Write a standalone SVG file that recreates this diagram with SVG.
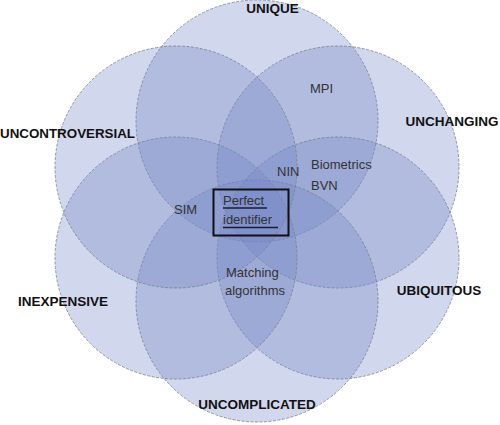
<svg xmlns="http://www.w3.org/2000/svg" width="500" height="425" viewBox="0 0 500 425">
<style>
.c{fill:#7387c4;fill-opacity:0.33;stroke:#7a7f8c;stroke-width:0.8;stroke-dasharray:3 1.5}
.h{font-family:"Liberation Sans",Arial,sans-serif;font-weight:bold;font-size:13.5px;fill:#111;text-anchor:middle}
.t{font-family:"Liberation Sans",Arial,sans-serif;font-size:13px;fill:#333}
.u{stroke:#1a1d2b;stroke-width:1.6}
</style>
<rect width="500" height="425" fill="#fff"/>
<g id="unique"><circle class="c" cx="257" cy="121" r="121"/></g>
<g id="unchanging"><circle class="c" cx="338" cy="167" r="121"/></g>
<g id="ubiquitous"><circle class="c" cx="338" cy="258" r="121"/></g>
<g id="uncomplicated"><circle class="c" cx="257" cy="301" r="121"/></g>
<g id="inexpensive"><circle class="c" cx="176" cy="258" r="121"/></g>
<g id="uncontroversial"><circle class="c" cx="176" cy="167" r="121"/></g>
<g id="labels">
<text class="h" x="272.5" y="13">UNIQUE</text>
<text class="h" x="452" y="126">UNCHANGING</text>
<text class="h" x="67.5" y="138" textLength="135" lengthAdjust="spacingAndGlyphs">UNCONTROVERSIAL</text>
<text class="h" x="63" y="306">INEXPENSIVE</text>
<text class="h" x="439" y="295">UBIQUITOUS</text>
<text class="h" x="257" y="409">UNCOMPLICATED</text>
</g>
<g id="items">
<text class="t" x="310" y="93">MPI</text>
<text class="t" x="277" y="176">NIN</text>
<text class="t" x="311" y="169">Biometrics</text>
<text class="t" x="311" y="190">BVN</text>
<text class="t" x="174" y="214">SIM</text>
<text class="t" x="226" y="277">Matching</text>
<text class="t" x="225" y="295">algorithms</text>
</g>
<g id="perfect-identifier">
<rect x="213.5" y="189.5" width="75" height="46" fill="none" stroke="#111" stroke-width="2"/>
<text class="t" x="223" y="205" fill="#222">Perfect</text>
<text class="t" x="223" y="224" fill="#222">identifier</text>
<line class="u" x1="223" y1="208" x2="267" y2="208"/>
<line class="u" x1="223" y1="227.5" x2="278" y2="227.5"/>
</g>
</svg>
